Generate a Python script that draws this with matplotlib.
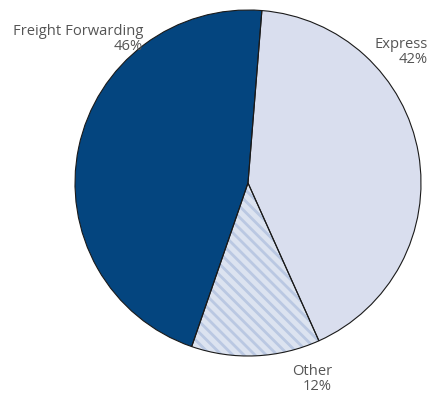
import matplotlib
matplotlib.use("Agg")
import matplotlib.pyplot as plt

categories = ["Express", "Other", "Freight Forwarding"]
values = [42, 12, 46]
labels = ["Express\n42%", "Other\n12%", "Freight Forwarding\n46%"]
colors = ["#d9deee", "#dce3f0", "#04457f"]

plt.rcParams['hatch.linewidth'] = 2.0
plt.rcParams['font.family'] = ['Open Sans', 'DejaVu Sans']

fig = plt.figure(figsize=(4.30, 3.96), dpi=100)
cx, cy, r = 248, 183, 173
ax = fig.add_axes([(cx - r) / 430, (396 - cy - r) / 396, 2 * r / 430, 2 * r / 396])
ax.axis('off')

wedges, _ = ax.pie(values, colors=colors, startangle=85.4, counterclock=False,
                   radius=1, wedgeprops=dict(linewidth=0))
w = wedges[1]
w.set_hatch('\\' * 3)
w.set_edgecolor('#bac8e2')
w.set_linewidth(0)

ax.pie(values, colors=['none'] * 3, startangle=85.4, counterclock=False, radius=1,
       wedgeprops=dict(linewidth=0.8, edgecolor='#1a1a1a', facecolor='none'))
ax.set_xlim(-1, 1)
ax.set_ylim(-1, 1)

tc = '#555555'
fs = 10.6
fig.text(143 / 430, 1 - 39 / 396, labels[2], ha='right', va='center', fontsize=fs,
         color=tc, linespacing=1.05)
fig.text(428 / 430, 1 - 52 / 396, labels[0], ha='right', va='center', fontsize=fs,
         color=tc, linespacing=1.05)
fig.text(332 / 430, 1 - 379 / 396, labels[1], ha='right', va='center', fontsize=fs,
         color=tc, linespacing=1.05)

fig.savefig("out.png", dpi=100)
